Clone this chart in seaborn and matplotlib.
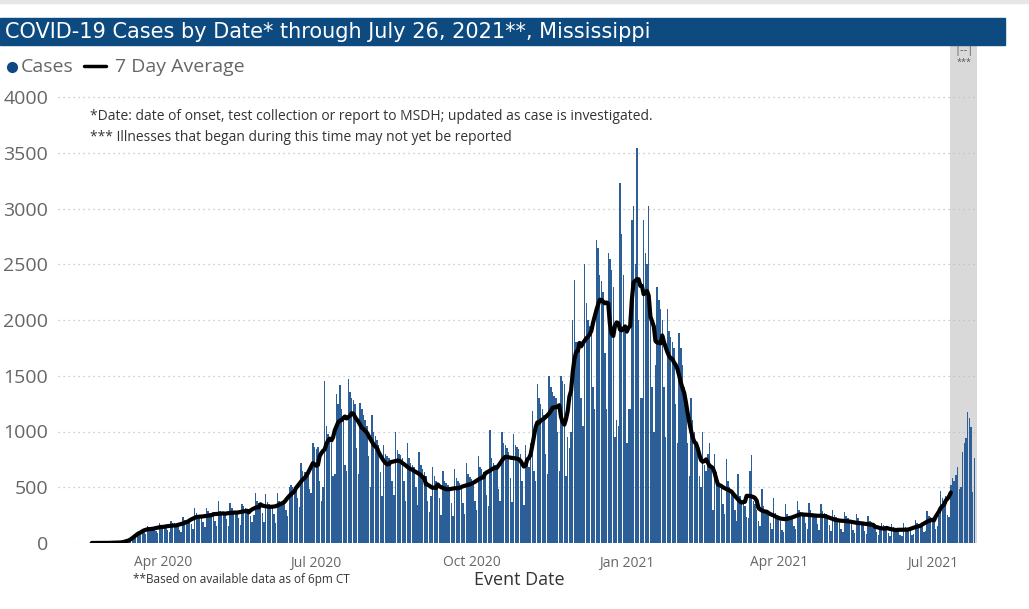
import matplotlib
matplotlib.use("Agg")
import matplotlib.pyplot as plt
import matplotlib.dates as mdates
from matplotlib.lines import Line2D
from matplotlib.patches import Rectangle
import numpy as np
import pandas as pd
import seaborn as sns

# daily cases by event date, one row per week (Sun..Sat)
first_day = "2020-02-02"
daily_cases = [
    0, 1, 0, 1, 0, 1, 0,
    0, 1, 0, 0, 1, 0, 0,
    0, 0, 1, 0, 0, 1, 0,
    0, 1, 1, 0, 1, 2, 0,
    1, 2, 2, 3, 2, 3, 1,
    4, 8, 12, 18, 25, 35, 30,
    35, 75, 85, 100, 110, 120, 95,
    80, 150, 140, 135, 140, 130, 105,
    90, 175, 165, 160, 160, 150, 115,
    95, 200, 180, 175, 170, 160, 120,
    100, 230, 210, 205, 200, 200, 170,
    130, 310, 270, 255, 250, 245, 185,
    140, 315, 285, 270, 265, 260, 200,
    150, 380, 290, 275, 275, 270, 215,
    155, 360, 310, 290, 285, 280, 225,
    165, 350, 330, 310, 305, 300, 240,
    190, 250, 445, 380, 360, 350, 270,
    185, 440, 370, 350, 340, 330, 260,
    180, 450, 380, 370, 380, 390, 300,
    240, 500, 520, 500, 500, 490, 400,
    320, 720, 650, 640, 640, 620, 480,
    450, 900, 860, 840, 860, 560, 380,
    500, 1450, 1050, 980, 950, 900, 600,
    620, 1340, 1250, 1420, 1200, 1150, 700,
    650, 1470, 1350, 1300, 1280, 1250, 850,
    620, 1260, 1200, 1150, 1100, 1050, 780,
    500, 1150, 1000, 960, 920, 880, 640,
    420, 880, 800, 780, 760, 740, 560,
    430, 1000, 830, 800, 790, 760, 560,
    380, 900, 760, 720, 700, 680, 500,
    340, 820, 700, 660, 640, 600, 380,
    280, 420, 680, 600, 560, 540, 400,
    250, 650, 560, 540, 520, 500, 360,
    240, 660, 580, 560, 540, 500, 360,
    260, 720, 620, 590, 570, 540, 380,
    300, 780, 680, 660, 640, 600, 430,
    330, 1010, 760, 720, 700, 680, 480,
    380, 1000, 900, 880, 850, 820, 580,
    370, 980, 880, 860, 840, 800, 560,
    340, 880, 700, 680, 900, 1180, 650,
    560, 1430, 1300, 1250, 1200, 1150, 800,
    620, 1500, 1400, 1350, 1320, 1300, 1000,
    650, 1500, 1450, 1430, 600, 950, 850,
    1000, 2000, 2360, 1800, 1800, 1750, 1300,
    1050, 2500, 2150, 2000, 1950, 1900, 1400,
    1200, 2720, 2650, 2400, 2350, 2250, 1700,
    1200, 2600, 2550, 2450, 2300, 950, 1100,
    1050, 3230, 2770, 2400, 1900, 900, 1200,
    1200, 2900, 3020, 2500, 3540, 2000, 1300,
    1300, 2900, 2600, 2500, 3020, 2100, 1400,
    1000, 1600, 2300, 2180, 2100, 2000, 1400,
    950, 2100, 1900, 1850, 1800, 1750, 1250,
    900, 1880, 1750, 1600, 1400, 1300, 900,
    600, 1300, 1100, 1000, 900, 850, 600,
    500, 1000, 700, 650, 800, 900, 700,
    300, 800, 640, 560, 520, 500, 350,
    260, 750, 560, 500, 470, 450, 300,
    200, 620, 420, 380, 360, 330, 230,
    220, 650, 790, 380, 350, 300, 200,
    150, 480, 330, 300, 280, 260, 180,
    130, 400, 270, 250, 240, 200, 120,
    100, 350, 260, 240, 230, 220, 150,
    130, 380, 300, 280, 270, 260, 180,
    130, 360, 300, 270, 260, 250, 170,
    120, 350, 290, 270, 260, 240, 160,
    110, 300, 250, 230, 220, 200, 130,
    100, 280, 240, 220, 210, 190, 120,
    90, 260, 220, 200, 190, 180, 110,
    85, 240, 200, 190, 180, 160, 100,
    70, 120, 180, 160, 150, 140, 90,
    60, 170, 140, 130, 130, 120, 70,
    60, 180, 140, 130, 130, 120, 75,
    80, 210, 180, 170, 160, 150, 100,
    110, 290, 240, 230, 220, 200, 130,
    150, 250, 470, 400, 380, 420, 250,
    230, 520, 580, 560, 610, 680, 480,
    500, 820, 900, 940, 1175, 1120, 1040,
    460, 760,
]

# 7 day average is only drawn for this span
line_start = "2020-02-19"
line_end = "2021-07-12"
# last two weeks, shaded as incomplete
recent_start = "2021-07-11 14:00"

x_range = ["2020-01-30", "2021-07-27 12:00"]
tick_dates = ["2020-04-01", "2020-07-01", "2020-10-01",
              "2021-01-01", "2021-04-01", "2021-07-01"]
y_ticks = list(range(0, 4001, 500))

title = "COVID-19 Cases by Date* through July 26, 2021**, Mississippi"
notes = ["*Date: date of onset, test collection or report to MSDH; updated as case is investigated.",
         "*** Illnesses that began during this time may not yet be reported"]
footnote = "**Based on available data as of 6pm CT"

BAR_BLUE = "#2c5e97"
TITLE_BLUE = "#0d4a80"
GREY_TXT = "#666666"

sns.set_theme(style="white")
plt.rcParams["font.family"] = ["Open Sans", "DejaVu Sans"]

df = pd.DataFrame({
    "date": pd.date_range(first_day, periods=len(daily_cases), freq="D"),
    "cases": daily_cases,
})
df["avg"] = df["cases"].rolling(7, center=True).mean()
df.loc[(df["date"] < line_start) | (df["date"] > line_end), "avg"] = np.nan

W, H = 1029, 609
fig = plt.figure(figsize=(W / 100, H / 100), dpi=100)
ax = fig.add_axes([58 / W, 1 - 543 / H, (977 - 58) / W, (543 - 45) / H])

ax.axvspan(pd.Timestamp(recent_start), pd.Timestamp(x_range[1]),
           color="#d9d9d9", zorder=0.2, lw=0)
ax.bar(df["date"], df["cases"], width=0.85, color=BAR_BLUE, lw=0, zorder=1)
sns.lineplot(data=df.dropna(subset=["avg"]), x="date", y="avg",
             color="black", lw=3, ax=ax, zorder=3)

ax.set_xlim(pd.Timestamp(x_range[0]), pd.Timestamp(x_range[1]))
ax.set_ylim(0, 4000 * (543 - 45) / (543 - 97))
ax.set_yticks(y_ticks)
ax.set_xticks([pd.Timestamp(d) for d in tick_dates])
ax.xaxis.set_major_formatter(mdates.DateFormatter("%b %Y"))
ax.set_axisbelow(True)
ax.yaxis.grid(True, linestyle=(0, (1, 3)), color="#bdbdbd", lw=0.9)
ax.xaxis.grid(False)
for s in ax.spines.values():
    s.set_visible(False)
ax.tick_params(axis="y", length=0, pad=7, labelsize=14, labelcolor=GREY_TXT)
ax.tick_params(axis="x", length=0, pad=9, labelsize=10, labelcolor=GREY_TXT)
ax.set_xlabel("")
ax.set_ylabel("")

# header band
fig.patches.append(Rectangle((0, 1 - 3 / H), 1, 3 / H, transform=fig.transFigure,
                             color="#e6e6e6", zorder=0))
fig.patches.append(Rectangle((0, 1 - 45 / H), 1005 / W, 27 / H, transform=fig.transFigure,
                             color=TITLE_BLUE, zorder=0))
fig.text(5 / W, 1 - 32 / H, title, color="white", fontsize=15, va="center",
         family=["DejaVu Sans"])

# legend
fig.add_artist(Line2D([12 / W], [1 - 67 / H], marker="o", ms=7, color=TITLE_BLUE,
                      transform=fig.transFigure))
fig.text(21 / W, 1 - 67 / H, "Cases", fontsize=14, color=GREY_TXT, va="center")
fig.add_artist(Line2D([84 / W, 106 / W], [1 - 66 / H] * 2, lw=2.5, color="black",
                      transform=fig.transFigure))
fig.text(115 / W, 1 - 67 / H, "7 Day Average", fontsize=14, color=GREY_TXT, va="center")

fig.text(90 / W, 1 - 117 / H, notes[0], fontsize=10, color="#333333", va="center")
fig.text(90 / W, 1 - 137 / H, notes[1], fontsize=10, color="#333333", va="center")
fig.text(964 / W, 1 - 50 / H, "|--|", fontsize=8, color="#555555", ha="center", va="center")
fig.text(964 / W, 1 - 62 / H, "***", fontsize=6.5, color="#555555", ha="center", va="center")

fig.text(519 / W, 1 - 580 / H, "Event Date", fontsize=13, color="#333333",
         ha="center", va="center")
fig.text(133 / W, 1 - 580 / H, footnote, fontsize=8.5, color="#333333", va="center")

fig.savefig("out.png", dpi=100)
